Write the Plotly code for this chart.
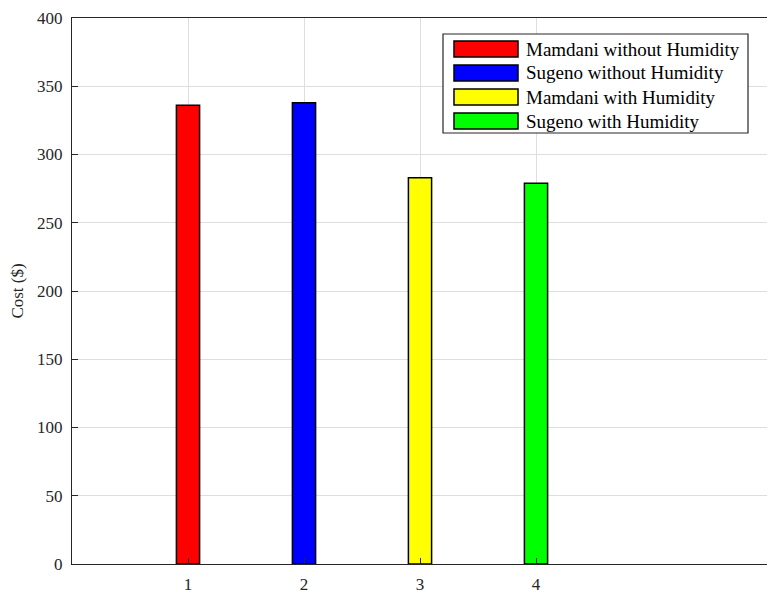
import plotly.graph_objects as go

categories = [1, 2, 3, 4]
series_names = ["Mamdani without Humidity", "Sugeno without Humidity",
                "Mamdani with Humidity", "Sugeno with Humidity"]
costs = [336, 338, 283, 279]
colors = ["#ff0000", "#0000ff", "#ffff00", "#00ff00"]
y_ticks = [0, 50, 100, 150, 200, 250, 300, 350, 400]

FONT = "Liberation Serif, Times New Roman, serif"

fig = go.Figure()
for c, v, col, name in zip(categories, costs, colors, series_names):
    fig.add_trace(go.Bar(
        x=[c], y=[v], width=0.2, name=name,
        marker=dict(color=col, line=dict(color="#000000", width=1.5)),
        showlegend=False,
    ))

# page body has an 8px margin; plot area in window coords: x 72..768, y 18..564
W, H, L, T = 696, 546, 72, 18
def px(x):
    return (x - L) / W
def py(y):
    return (T + H - y) / H

shapes = [dict(type="rect", xref="paper", yref="paper",
               x0=px(443), x1=px(748), y0=py(133), y1=py(34),
               line=dict(color="#262626", width=1.2), fillcolor="white", layer="above")]
annotations = []
for i, (name, col) in enumerate(zip(series_names, colors)):
    cy = 49 + 24 * i
    shapes.append(dict(type="rect", xref="paper", yref="paper",
                       x0=px(454), x1=px(518), y0=py(cy + 8), y1=py(cy - 8),
                       line=dict(color="#000000", width=1.5), fillcolor=col, layer="above"))
    annotations.append(dict(xref="paper", yref="paper", x=px(524), y=py(cy),
                            xanchor="left", yanchor="middle", text=name, showarrow=False,
                            font=dict(family=FONT, size=19, color="#000000")))

fig.update_layout(
    width=775, height=601,
    margin=dict(l=64, r=15, t=10, b=45),
    plot_bgcolor="white", paper_bgcolor="white",
    font=dict(family=FONT, size=17, color="#262626"),
    shapes=shapes, annotations=annotations,
    barmode="overlay",
    xaxis=dict(range=[0, 6], tickvals=categories, ticktext=[str(c) for c in categories],
               showgrid=True, gridcolor="#dedede", gridwidth=1,
               showline=True, linecolor="#262626", linewidth=1.2, mirror=True,
               ticks="inside", ticklen=6, tickcolor="#262626", zeroline=False,
               ticklabelstandoff=4, automargin=False),
    yaxis=dict(range=[0, 400], tickvals=y_ticks,
               showgrid=True, gridcolor="#dedede", gridwidth=1,
               showline=True, linecolor="#262626", linewidth=1.2, mirror=True,
               ticks="inside", ticklen=6, tickcolor="#262626", zeroline=False,
               ticklabelstandoff=5, ticklabeloverflow="allow", automargin=False,
               title=dict(text="Cost ($)", font=dict(family=FONT, size=17, color="#262626"))),
)

fig.write_html("out.html")
